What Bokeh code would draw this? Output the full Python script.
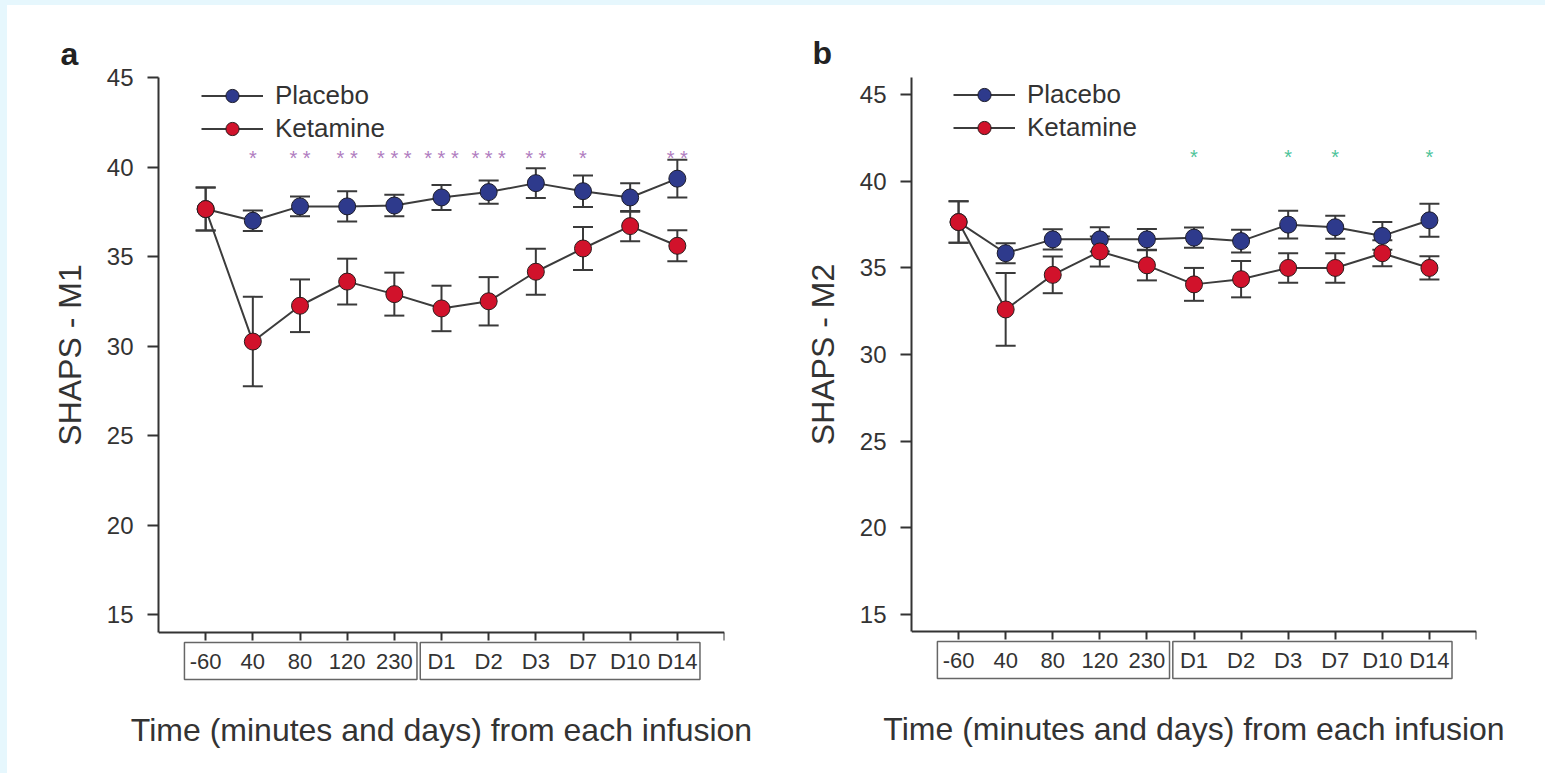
from bokeh.plotting import figure
from bokeh.models import (Range1d, FixedTicker, Whisker, TeeHead, ColumnDataSource,
                          Legend, LegendItem, Title, LinearAxis)
from bokeh.layouts import row
from bokeh.embed import file_html
from bokeh.resources import INLINE
from bokeh.core.properties import value

# ---------------- data ----------------
time_labels = ["-60", "40", "80", "120", "230", "D1", "D2", "D3", "D7", "D10", "D14"]
label_groups = [(0, 4), (5, 10)]          # minutes group, days group (index ranges)

m1_placebo = [37.65, 37.0, 37.8, 37.8, 37.85, 38.3, 38.6, 39.1, 38.65, 38.3, 39.35]
m1_placebo_sem = [1.2, 0.57, 0.55, 0.85, 0.6, 0.7, 0.65, 0.83, 0.88, 0.8, 1.05]
m1_ketamine = [37.65, 30.25, 32.25, 33.6, 32.9, 32.1, 32.5, 34.15, 35.45, 36.7, 35.6]
m1_ketamine_sem = [1.2, 2.5, 1.47, 1.28, 1.2, 1.27, 1.35, 1.28, 1.2, 0.85, 0.87]
m1_sig = ["", "*", "**", "**", "***", "***", "***", "**", "*", "", "**"]

m2_placebo = [37.65, 35.85, 36.65, 36.65, 36.65, 36.75, 36.55, 37.5, 37.35, 36.85, 37.75]
m2_placebo_sem = [1.2, 0.58, 0.58, 0.7, 0.6, 0.58, 0.66, 0.8, 0.67, 0.8, 0.95]
m2_ketamine = [37.65, 32.6, 34.6, 35.95, 35.15, 34.05, 34.35, 35.0, 35.0, 35.85, 35.0]
m2_ketamine_sem = [1.2, 2.1, 1.06, 0.87, 0.87, 0.95, 1.05, 0.85, 0.85, 0.75, 0.67]
m2_sig = ["", "", "", "", "", "*", "", "*", "*", "", "*"]

y_ticks = [15, 20, 25, 30, 35, 40, 45]
x_title = "Time (minutes and days) from each infusion"

# ---------------- style ----------------
FONT = "Liberation Sans"
TEXT = "#333333"
AXIS = "#333333"
PLACEBO_COLOR = "#2e3a8c"
KETAMINE_COLOR = "#d1122b"
LINE_COLOR = "#3c3c3c"
ERR_COLOR = "#3a3a3a"
AXIS_Y = 14          # data value where the x axis sits
AXIS_PX = 631        # page pixel of x axis
FRAME_BOTTOM_PX = 690
FIG_HEIGHT = 772
LEGEND_ROW1_PX = 92
GLYPH_H = 33
LEG_PAD = 2
YLABEL_FONT_PX = 32
YLABEL_EM = 5.668    # Arial-metric advance width of "SHAPS - M1" in em


def make_panel(letter, ylabel, placebo, placebo_sem, ketamine, ketamine_sem,
               sig, sig_color, sig_level, y_top, ppu, fig_left, frame_left, frame_top,
               frame_width, fig_width, legend_left_px, letter_left_px, title_standoff):
    n = len(time_labels)
    xs = list(range(1, n + 1))
    y_lo = AXIS_Y - (FRAME_BOTTOM_PX - AXIS_PX) / ppu
    frame_height = FRAME_BOTTOM_PX - frame_top
    ml = frame_left - fig_left
    mt = frame_top
    mr = fig_width - ml - frame_width
    mb = FIG_HEIGHT - mt - frame_height

    p = figure(frame_width=frame_width, frame_height=frame_height,
               x_range=Range1d(0, n + 1), y_range=Range1d(y_lo, y_top),
               output_backend="svg", toolbar_location=None, title=None,
               min_border_left=ml, min_border_right=mr,
               min_border_top=mt, min_border_bottom=mb)
    p.outline_line_color = None
    p.grid.visible = False
    p.background_fill_color = "white"
    p.border_fill_color = None
    p.border_fill_alpha = 0

    # ---- panel letter ----
    p.add_layout(Title(text=letter, align="left", offset=letter_left_px - frame_left,
                       standoff=title_standoff, vertical_align="bottom",
                       text_font=FONT, text_font_size="32px", text_font_style="bold",
                       text_color="#222222"), "above")

    # ---- y axis ----
    ya = p.yaxis[0]
    ya.ticker = FixedTicker(ticks=y_ticks)
    ya.bounds = (AXIS_Y, y_top)
    ya.axis_line_color = AXIS
    ya.axis_line_width = 2
    ya.major_tick_line_color = AXIS
    ya.major_tick_line_width = 2
    ya.major_tick_in = 0
    ya.major_tick_out = 11
    ya.minor_tick_line_color = None
    ya.major_label_standoff = 14
    ya.major_label_text_font = FONT
    ya.major_label_text_font_size = "24px"
    ya.major_label_text_color = TEXT

    # y title, centred on the drawn part of the y axis
    axis_mid_px = (frame_top + AXIS_PX) / 2
    label_start_px = axis_mid_px + YLABEL_EM * YLABEL_FONT_PX / 2
    p.add_layout(Title(text=ylabel, align="left", vertical_align="bottom",
                       offset=FRAME_BOTTOM_PX - label_start_px, standoff=32,
                       text_font=FONT, text_font_size=f"{YLABEL_FONT_PX}px",
                       text_font_style="normal", text_color=TEXT), "left")

    # ---- x axis (at y = 14) ----
    xa = p.xaxis[0]
    xa.fixed_location = AXIS_Y
    xa.ticker = FixedTicker(ticks=xs + [n + 1])
    overrides = {x: lab for x, lab in zip(xs, time_labels)}
    overrides[n + 1] = ""
    xa.major_label_overrides = overrides
    xa.axis_line_color = AXIS
    xa.axis_line_width = 2
    xa.major_tick_line_color = AXIS
    xa.major_tick_line_width = 2
    xa.major_tick_in = 0
    xa.major_tick_out = 8
    xa.minor_tick_line_color = None
    xa.major_label_standoff = 9
    xa.major_label_text_font = FONT
    xa.major_label_text_font_size = "22px"
    xa.major_label_text_color = TEXT

    # axis carrying only the x title, below the frame
    tx = LinearAxis(ticker=FixedTicker(ticks=[]), axis_label=x_title,
                    axis_line_color=None, major_tick_line_color=None,
                    minor_tick_line_color=None, major_tick_out=0, major_tick_in=0,
                    major_label_standoff=0, major_label_text_font_size="0px",
                    axis_label_standoff=20, axis_label_text_font=FONT,
                    axis_label_text_font_size="32px", axis_label_text_font_style="normal",
                    axis_label_text_color=TEXT)
    p.add_layout(tx, "below")

    # ---- boxes around tick-label groups ----
    lefts = [xs[a] - 0.45 for a, b in label_groups]
    rights = [xs[b] + 0.48 for a, b in label_groups]
    tops = [AXIS_Y - 10 / ppu] * len(label_groups)
    bottoms = [AXIS_Y - 47 / ppu] * len(label_groups)
    p.quad(left=lefts, right=rights, top=tops, bottom=bottoms,
           fill_color=None, line_color="#666666", line_width=1.5)

    # ---- error bars ----
    for vals, sems in ((placebo, placebo_sem), (ketamine, ketamine_sem)):
        src = ColumnDataSource(dict(x=xs,
                                    upper=[v + s for v, s in zip(vals, sems)],
                                    lower=[v - s for v, s in zip(vals, sems)]))
        w = Whisker(source=src, base="x", upper="upper", lower="lower",
                    line_color=ERR_COLOR, line_width=2,
                    upper_head=TeeHead(size=20, line_color=ERR_COLOR, line_width=2),
                    lower_head=TeeHead(size=20, line_color=ERR_COLOR, line_width=2))
        p.add_layout(w)

    # ---- lines and markers ----
    pl_line = p.line(xs, placebo, line_color=LINE_COLOR, line_width=2)
    ke_line = p.line(xs, ketamine, line_color=LINE_COLOR, line_width=2)
    pl_pts = p.scatter(xs, placebo, size=17, fill_color=PLACEBO_COLOR,
                       line_color="#1c1c2a", line_width=1)
    ke_pts = p.scatter(xs, ketamine, size=17, fill_color=KETAMINE_COLOR,
                       line_color="#2a1c1c", line_width=1)

    # ---- significance stars ----
    sx = [x for x, s in zip(xs, sig) if s]
    st = [" ".join(s) for s in sig if s]
    p.text(x=sx, y=[sig_level] * len(sx), text=st, text_color=sig_color,
           text_font=value(FONT), text_font_size="20px", text_align="center",
           text_baseline="alphabetic", y_offset=4)

    # ---- legend ----
    leg_height = 2 * LEG_PAD + 2 * GLYPH_H
    leg_top = LEGEND_ROW1_PX - LEG_PAD - GLYPH_H / 2
    vy = FRAME_BOTTOM_PX - (leg_top + leg_height)
    legend = Legend(items=[LegendItem(label="Placebo", renderers=[pl_line, pl_pts]),
                           LegendItem(label="Ketamine", renderers=[ke_line, ke_pts])],
                    location=(legend_left_px - LEG_PAD - frame_left, vy),
                    orientation="vertical", background_fill_alpha=0,
                    border_line_color=None, glyph_width=62, glyph_height=GLYPH_H,
                    spacing=0, padding=LEG_PAD, margin=0, label_standoff=12,
                    label_text_font=FONT, label_text_font_size="26px",
                    label_text_color=TEXT)
    p.add_layout(legend)
    return p


pa = make_panel("a", "SHAPS - M1", m1_placebo, m1_placebo_sem, m1_ketamine, m1_ketamine_sem,
                m1_sig, "#b07cc0", 40.75, 45, 17.9, 0, 158, 76, 566, 770, 203, 60, 12)
pb = make_panel("b", "SHAPS - M2", m2_placebo, m2_placebo_sem, m2_ketamine, m2_ketamine_sem,
                m2_sig, "#4fc49a", 41.65, 46, 17.3, 770, 911, 77, 565, 774, 955, 812, 14)

layout = row(pa, pb)
html = file_html(layout, INLINE)
html = html.replace("<head>", "<head><style>body{background:"
                    "linear-gradient(to right,#e6f7fd 7px,transparent 7px),"
                    "linear-gradient(to bottom,#e6f7fd 5px,#ffffff 5px);}</style>", 1)
open("out.html", "w").write(html)
